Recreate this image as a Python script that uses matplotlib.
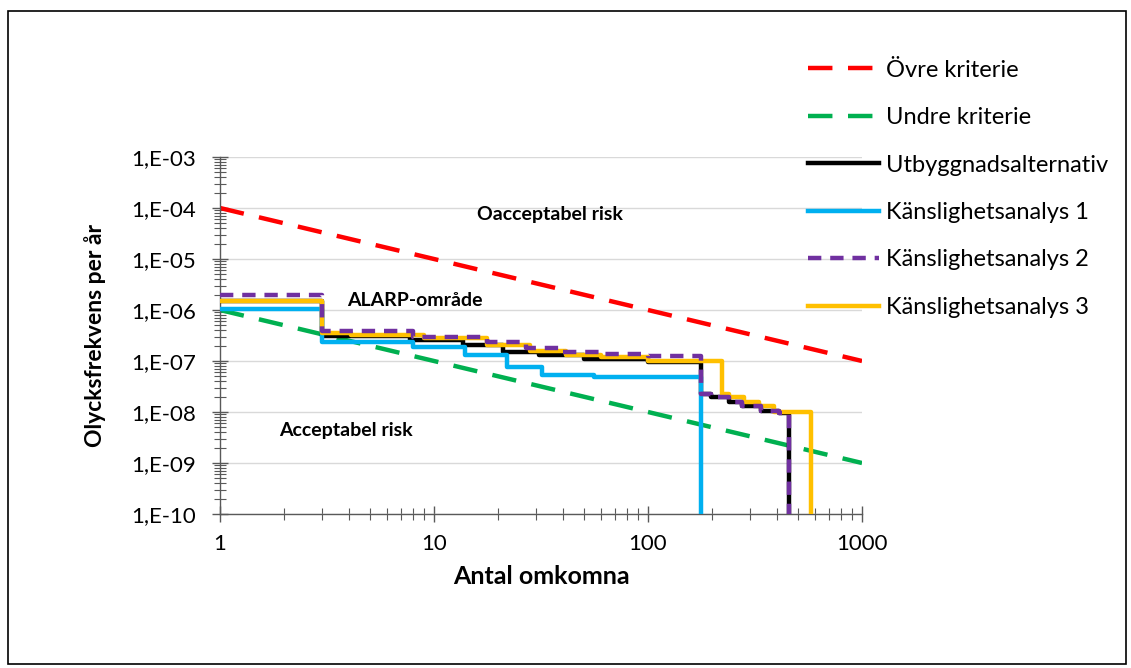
import numpy as np
import matplotlib
matplotlib.use("Agg")
import matplotlib.pyplot as plt
from matplotlib.ticker import FixedLocator, FuncFormatter, LogLocator, NullFormatter
from matplotlib.patches import Rectangle

plt.rcParams['font.family'] = ['Lato', 'DejaVu Sans']

# criteria lines
krit_x = [1, 1000]
ovre_y = [1e-4, 1e-7]
undre_y = [1e-6, 1e-9]

# F/N step curves (x = start of step, y = frequency); last y drops to axis
utb_x = [1, 3, 7.7, 13.6, 21, 31, 50, 100, 177, 197, 240, 275, 339, 410, 457]
utb_y = [1.5e-6, 3.1e-7, 2.6e-7, 2.05e-7, 1.5e-7, 1.3e-7, 1.1e-7, 9.5e-8,
         2.3e-8, 1.96e-8, 1.6e-8, 1.3e-8, 1.06e-8, 9.6e-9, 1e-10]

k1_x = [1, 3, 8, 14, 22, 32, 56, 177]
k1_y = [1.07e-6, 2.35e-7, 1.9e-7, 1.3e-7, 7.6e-8, 5.3e-8, 4.9e-8, 1e-10]

k2_x = [1, 3, 8, 17.6, 27, 40, 60, 100, 177, 197, 240, 275, 339, 410, 457]
k2_y = [2.0e-6, 3.8e-7, 3.0e-7, 2.4e-7, 1.8e-7, 1.5e-7, 1.4e-7, 1.25e-7,
        2.3e-8, 1.96e-8, 1.6e-8, 1.3e-8, 1.06e-8, 9.6e-9, 1e-10]

k3_x = [1, 3, 4.1, 9, 17.6, 28, 41.6, 60, 100, 222, 240, 280, 330, 390, 579]
k3_y = [1.5e-6, 3.5e-7, 3.2e-7, 2.8e-7, 2.1e-7, 1.6e-7, 1.3e-7, 1.2e-7, 1.0e-7,
        2.3e-8, 1.96e-8, 1.6e-8, 1.3e-8, 1.0e-8, 1e-10]

fig = plt.figure(figsize=(11.31, 6.68), dpi=100)
ax = fig.add_axes([220/1131, 1 - 514/668, 642/1131, 357/668])

lw = 3.2
ax.plot(krit_x, ovre_y, color='#ff0000', lw=lw, dashes=(5.5, 3.5), label='Övre kriterie', zorder=2)
ax.plot(krit_x, undre_y, color='#00b050', lw=lw, dashes=(5.5, 3.5), label='Undre kriterie', zorder=2)
ax.step(utb_x, utb_y, where='post', color='black', lw=lw, label='Utbyggnadsalternativ', zorder=3)
ax.step(k1_x, k1_y, where='post', color='#00b0f0', lw=lw, label='Känslighetsanalys 1', zorder=4)
ax.step(k3_x, k3_y, where='post', color='#ffc000', lw=lw, label='Känslighetsanalys 3', zorder=5)
ax.step(k2_x, k2_y, where='post', color='#7030a0', lw=lw, dashes=(3, 2), label='Känslighetsanalys 2', zorder=6)

ax.set_xscale('log')
ax.set_yscale('log')
ax.set_xlim(1, 1000)
ax.set_ylim(1e-10, 1e-3)

ax.yaxis.set_major_locator(FixedLocator([10.0**e for e in range(-10, -2)]))
ax.yaxis.set_major_formatter(FuncFormatter(lambda v, p: "1,E-%02d" % round(-np.log10(v))))
ax.yaxis.set_minor_locator(LogLocator(base=10, subs=np.arange(2, 10), numticks=20))
ax.yaxis.set_minor_formatter(NullFormatter())
ax.xaxis.set_major_locator(FixedLocator([1, 10, 100, 1000]))
ax.xaxis.set_major_formatter(FuncFormatter(lambda v, p: "%d" % v))
ax.xaxis.set_minor_locator(LogLocator(base=10, subs=np.arange(2, 10), numticks=20))
ax.xaxis.set_minor_formatter(NullFormatter())

ax.tick_params(which='both', direction='inout', colors='#595959', labelcolor='black', labelsize=16)
ax.tick_params(which='major', length=11, width=1)
ax.tick_params(which='minor', length=8, width=0.8)
ax.tick_params(axis='x', pad=9)
ax.tick_params(axis='y', pad=12)

for s in ['top', 'right']:
    ax.spines[s].set_visible(False)
for s in ['left', 'bottom']:
    ax.spines[s].set_color('#595959')
    ax.spines[s].set_linewidth(1.0)

ax.grid(True, which='major', axis='y', color='#d9d9d9', lw=1)
ax.set_axisbelow(True)

ax.set_xlabel('Antal omkomna', fontsize=18, fontweight='bold', labelpad=8)
ax.set_ylabel('Olycksfrekvens per år', fontsize=16.5, fontweight='bold', labelpad=18)

ax.text(34.7, 7.3e-5, 'Oacceptabel risk', fontsize=14, fontweight='bold', ha='center', va='center')
ax.text(8.1, 1.57e-6, 'ALARP-område', fontsize=14, fontweight='bold', ha='center', va='center')
ax.text(3.87, 4.4e-9, 'Acceptabel risk', fontsize=14, fontweight='bold', ha='center', va='center')

handles, labels = ax.get_legend_handles_labels()
order = [0, 1, 2, 3, 5, 4]
fig.legend([handles[i] for i in order], [labels[i] for i in order],
           loc='upper left', bbox_to_anchor=(803/1131, 1 - 55/668), frameon=False,
           fontsize=17, handlelength=3.0, handletextpad=0.3, labelspacing=1.12,
           borderaxespad=0, borderpad=0.2)

fig.patches.append(Rectangle((8/1131, 1 - 664/668), 1118/1131, 653/668, transform=fig.transFigure,
                             fill=False, edgecolor='black', lw=1.2))

fig.savefig('out.png', dpi=100)
